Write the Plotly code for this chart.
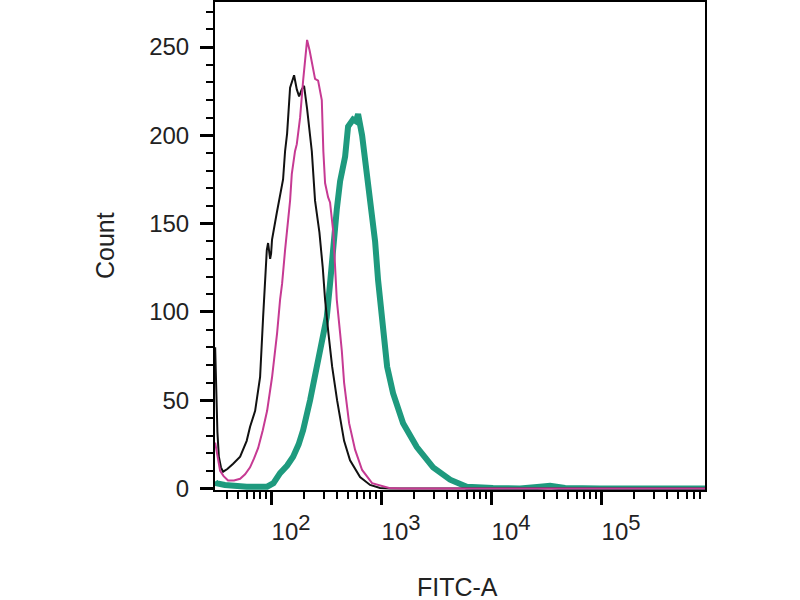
import plotly.graph_objects as go

# FITC-A histogram overlays
black_x = [31.0, 31.6, 32.5, 33.5, 35.0, 36.6, 40.0, 45.2, 52.3, 60.0, 64.4, 71.6, 76.3, 79.4,
           84.6, 88.0, 91.4, 93.9, 98.0, 100.0, 102.0, 112.6, 120.7, 128.5, 134.0, 139.8, 148.8,
           161.8, 171.3, 179.8, 190.0, 199.5, 212.5, 234.5, 251.0, 275.0, 295.0, 309.6, 332.0,
           343.6, 359.0, 398.0, 461.0, 522.0, 644.0, 794.0, 979.0, 1208.0, 2000.0, 881000.0]
black_y = [80, 55, 32, 18, 12, 9.5, 11, 14, 18, 27, 35, 44, 55, 63,
           97, 118, 135, 139, 130, 133, 141, 156, 165, 175, 191, 201, 227,
           234, 226, 222, 226, 228, 215, 191, 163, 145, 125, 107, 88,
           78, 69, 50, 27, 16, 6.5, 2, 0.3, 0, 0, 0]

magenta_x = [31.0, 31.6, 33.0, 34.4, 37.0, 40.6, 46.0, 52.3, 58.0, 64.4, 70.0, 76.3, 84.0, 92.0,
             102.0, 113.4, 120.7, 125.9, 134.0, 136.9, 148.8, 154.2, 165.0, 171.3, 183.5, 195.5,
             212.5, 224.0, 234.5, 251.0, 267.5, 289.0, 298.6, 309.6, 329.7, 343.6, 368.0, 382.0,
             395.5, 424.0, 439.5, 461.0, 512.0, 580.0, 672.0, 828.0, 1183.0, 1489.0, 881000.0]
magenta_y = [26, 23, 14, 10, 7, 4.5, 4.5, 5.5, 8, 12, 17, 23, 33, 44,
             63, 88, 107, 116, 135, 141, 163, 178, 191, 195, 210, 231,
             254, 248, 242, 232, 231, 220, 191, 173, 165, 162, 145, 125,
             107, 88, 78, 60, 37, 22, 10.5, 3, 0.3, 0, 0]

teal_x = [31.0, 31.6, 38.0, 45.2, 60.0, 80.0, 92.0, 105.0, 120.7, 140.0, 158.5, 178.0, 195.5,
          226.3, 260.0, 289.0, 320.7, 343.6, 368.0, 395.5, 424.0, 471.0, 501.0, 556.0, 590.0,
          618.0, 672.0, 731.0, 811.0, 882.0, 939.0, 1011.0, 1087.0, 1135.0, 1285.0, 1585.0,
          2113.0, 2970.0, 4240.0, 6011.0, 10420.0, 18360.0, 27860.0, 34390.0, 47100.0,
          97700.0, 881000.0]
teal_y = [4, 3, 2, 1.5, 1, 1, 1, 3, 8.7, 13, 18, 25, 33,
          50, 70, 84, 97, 116, 140, 158, 174, 188, 205, 209, 208,
          212, 200, 180, 162, 140, 118, 97, 78, 69, 54, 37,
          23.5, 12, 5, 1, 0.3, 0, 1, 1.5, 0.3,
          0, 0]

x_ticks = [100, 1000, 10000, 100000]
x_exponents = ["2", "3", "4", "5"]
x_minor = [20, 30, 40, 50, 60, 70, 80, 90,
           200, 300, 400, 500, 600, 700, 800, 900,
           2000, 3000, 4000, 5000, 6000, 7000, 8000, 9000,
           20000, 30000, 40000, 50000, 60000, 70000, 80000, 90000,
           200000, 300000, 400000, 500000, 600000, 700000, 800000, 900000]
y_ticks = [0, 50, 100, 150, 200, 250]

FONT = "Liberation Sans, Arial, sans-serif"

# superscript exponent almost as large as the base in the reference
x_ticktext = ["10<sup><span style='font-size:22px'>" + e + "</span></sup>" for e in x_exponents]

fig = go.Figure()
fig.add_trace(go.Scatter(x=teal_x, y=teal_y, mode="lines",
                         line=dict(color="#1e9a7e", width=6)))
fig.add_trace(go.Scatter(x=black_x, y=black_y, mode="lines",
                         line=dict(color="#111111", width=2)))
fig.add_trace(go.Scatter(x=magenta_x, y=magenta_y, mode="lines",
                         line=dict(color="#c63a93", width=2)))

fig.update_layout(
    width=800, height=600,
    margin=dict(l=215, r=95, t=2, b=110),
    paper_bgcolor="white", plot_bgcolor="white",
    showlegend=False,
    font=dict(family=FONT, size=24, color="#222222"),
)

fig.update_xaxes(
    type="log", range=[1.49, 5.945], automargin=False,
    tickmode="array", tickvals=x_ticks, ticktext=x_ticktext,
    ticks="outside", ticklen=13, tickwidth=3, tickcolor="black",
    ticklabelshift=20, ticklabelstandoff=6,
    minor=dict(tickmode="array", tickvals=x_minor, ticks="outside",
               ticklen=7, tickwidth=2, tickcolor="black"),
    showline=True, linecolor="black", linewidth=2, mirror=True,
    showgrid=False, zeroline=False,
)
fig.update_yaxes(
    range=[-0.85, 275.5], automargin=False,
    tickmode="array", tickvals=y_ticks,
    ticks="outside", ticklen=13, tickwidth=3, tickcolor="black",
    ticklabelstandoff=6,
    minor=dict(dtick=10, ticks="outside", ticklen=7, tickwidth=2, tickcolor="black"),
    showline=True, linecolor="black", linewidth=2, mirror=True,
    showgrid=False, zeroline=False,
)

# axis titles
fig.add_annotation(text="Count", xref="paper", yref="paper", x=0, y=0.5,
                   xanchor="center", yanchor="middle", xshift=-110, textangle=-90,
                   showarrow=False, font=dict(family=FONT, size=25, color="#222222"))
fig.add_annotation(text="FITC-A", xref="paper", yref="paper", x=0.5, y=0,
                   xanchor="center", yanchor="middle", xshift=-3, yshift=-97,
                   showarrow=False, font=dict(family=FONT, size=25, color="#222222"))

# drop the default page margin so the figure sits at the window's top-left corner
fig.write_html("out.html", config={"displayModeBar": False},
               post_script="document.body.style.margin='0';")
